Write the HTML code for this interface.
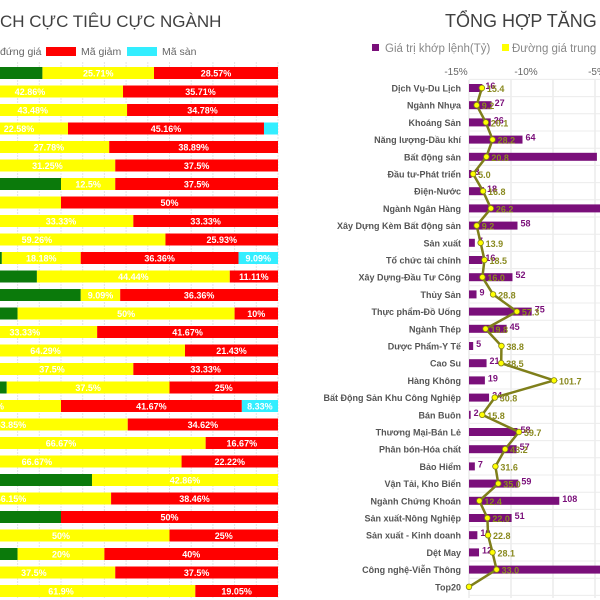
<!DOCTYPE html>
<html><head><meta charset="utf-8">
<style>
html,body{margin:0;padding:0;background:#fff;width:600px;height:600px;overflow:hidden}
svg{display:block;font-family:"Liberation Sans","DejaVu Sans",sans-serif}
</style></head>
<body>
<svg id="chart" width="600" height="600" viewBox="0 0 600 600">
  <text x="0" y="27" font-size="17" fill="#404040">CH CỰC TIÊU CỰC NGÀNH</text>
  <g font-size="10.5" fill="#666">
    <text x="0" y="55">đứng giá</text>
    <rect x="46" y="47" width="30" height="9" fill="#ff0000"/>
    <text x="81" y="55">Mã giảm</text>
    <rect x="127" y="47" width="30" height="9" fill="#33eeff"/>
    <text x="162" y="55">Mã sàn</text>
  </g>
  <text x="445" y="27" font-size="18" fill="#404040">TỔNG HỢP TĂNG GIẢM</text>
  <g font-size="11.5" fill="#888">
    <rect x="372" y="44" width="7" height="7" fill="#7a0f7a"/>
    <text x="385" y="52">Giá trị khớp lệnh(Tỷ)</text>
    <rect x="502" y="44" width="7" height="7" fill="#ffff00"/>
    <text x="512" y="52">Đường giá trung bình</text>
  </g>
  <g id="left"></g>
  <g id="right"></g>
</svg>
<script>
const leftGreen  = [45.72,21.43,21.74,29.03,33.33,31.25,50,0,33.34,14.81,36.37,44.45,54.55,40,25,14.28,29.17,37.5,16.67,11.53,16.66,11.11,57.14,15.39,50,25,40,25,19.05];
const leftYellow = [25.71,42.86,43.48,22.58,27.78,31.25,12.5,50,33.33,59.26,18.18,44.44,9.09,50,33.33,64.29,37.5,37.5,33.33,53.85,66.67,66.67,42.86,46.15,0,50,20,37.5,61.9];
const leftRed    = [28.57,35.71,34.78,45.16,38.89,37.5,37.5,50,33.33,25.93,36.36,11.11,36.36,10,41.67,21.43,33.33,25,41.67,34.62,16.67,22.22,0,38.46,50,25,40,37.5,19.05];
const leftCyan   = [0,0,0,3.23,0,0,0,0,0,0,9.09,0,0,0,0,0,0,0,8.33,0,0,0,0,0,0,0,0,0,0];

const categories = ["Dịch Vụ-Du Lịch","Ngành Nhựa","Khoáng Sản","Năng lượng-Dầu khí","Bất động sản","Đầu tư-Phát triển","Điện-Nước","Ngành Ngân Hàng","Xây Dựng Kèm Bất động sản","Sản xuất","Tổ chức tài chính","Xây Dựng-Đầu Tư Công","Thủy Sản","Thực phẩm-Đồ Uống","Ngành Thép","Dược Phẩm-Y Tế","Cao Su","Hàng Không","Bất Động Sản Khu Công Nghiệp","Bán Buôn","Thương Mại-Bán Lẻ","Phân bón-Hóa chất","Bảo Hiểm","Vận Tải, Kho Biển","Ngành Chứng Khoán","Sản xuất-Nông Nghiệp","Sản xuất - Kinh doanh","Dệt May","Công nghệ-Viễn Thông","Top20"];
const barValues  = [16,27,26,64,153,3,18,250,58,7,16,52,9,75,45,5,21,19,24,2,58,57,7,59,108,51,10,12,200,0];
const lineValues = [15.4,9.2,20.1,28.2,20.8,5.0,16.8,26.2,9.2,13.9,18.5,16.0,28.8,57.3,19.8,38.8,38.5,101.7,30.8,15.8,59.7,43.2,31.6,35.0,12.4,22.0,22.8,28.1,33.0,0];
const topTicks = ["-15%","-10%","-5%"];

const NS="http://www.w3.org/2000/svg";
function mk(parent,tag,attrs,text){const e=document.createElementNS(NS,tag);for(const k in attrs)e.setAttribute(k,attrs[k]);if(text!==undefined)e.textContent=text;parent.appendChild(e);return e;}

const L=document.getElementById('left');
const lx0=-156, lx1=278, lRow0=73, lStep=18.5, lH=12;
const lx=v=>lx0+(lx1-lx0)*v/100;
const ly=i=>lRow0+i*lStep;
for(let g=0;g<=100;g+=5){
  const gl=mk(L,'line',{x1:lx(g),x2:lx(g),y1:62,y2:598,stroke:'#e4e4e4','stroke-width':1,'stroke-dasharray':'2,1'});
  
  
}
const segs=[[leftGreen,'#0b7a0b','green'],[leftYellow,'#ffff00','yellow'],[leftRed,'#ff0000','red'],[leftCyan,'#33eeff','cyan']];
for(let i=0;i<leftRed.length;i++){
  let acc=0;
  for(const [arr,col,nm] of segs){
    const v=arr[i]; if(v<=0){continue;}
    const x=lx(acc), w=lx(acc+v)-lx(acc);
    const r=mk(L,'rect',{x:x,y:ly(i)-lH/2,width:w,height:lH,fill:col});
    
    
    if(nm!=='green' && w>20){
      const t=mk(L,'text',{x:x+w/2,y:ly(i)+3.5,'font-size':9,'font-weight':'bold',fill:'#fff','text-anchor':'middle'},(Math.round(v*100)/100)+'%');
      
      
    }
    acc+=v;
  }
}

const R=document.getElementById('right');
const rx0=469, rScale=0.836, rRow0=88, rStep=17.2;
const rx=v=>rx0+v*rScale;
const ry=i=>rRow0+i*rStep;
const tickX=[456,526,597];
topTicks.forEach((t,k)=>{
  const e=mk(R,'text',{x:tickX[k],y:75,'font-size':10,fill:'#666','text-anchor':'middle'},t);
  
  
});
[469,511,553,595].forEach(x=>{
  const e=mk(R,'line',{x1:x,x2:x,y1:80,y2:598,stroke:'#e2e2e2','stroke-width':1});
  
  
});
for(let i=0;i<=categories.length;i++){
  const y=rRow0-rStep/2+i*rStep;
  const e=mk(R,'line',{x1:469,x2:600,y1:y,y2:y,stroke:'#ececec','stroke-width':1});
  
  
}
categories.forEach((c,i)=>{
  const t=mk(R,'text',{x:461,y:ry(i)+3.5,'font-size':9,'font-weight':'bold',fill:'#555','text-anchor':'end'},c);
  
  
  if(barValues[i]>0){
    const b=mk(R,'rect',{x:rx0,y:ry(i)-4,width:rx(barValues[i])-rx0,height:8,fill:'#7a0f7a'});
    
    
    const bx=rx(barValues[i]);
    if(bx<590){
      const bt=mk(R,'text',{x:bx+3,y:ry(i)+1,'font-size':9,'font-weight':'bold',fill:'#7a0f7a'},barValues[i]);
      
      
    }
  }
});
let d='';
lineValues.forEach((v,i)=>{d+=(i?'L':'M')+rx(v)+','+ry(i);});
const path=mk(R,'path',{d:d,fill:'none',stroke:'#7f7f1a','stroke-width':2.5});


lineValues.forEach((v,i)=>{
  const c=mk(R,'circle',{cx:rx(v),cy:ry(i),r:2.8,fill:'#ffff00',stroke:'#7f7f1a','stroke-width':0.8});
  
  
  if(i<lineValues.length-1){
    const t=mk(R,'text',{x:rx(v)+5,y:ry(i)+4,'font-size':9,'font-weight':'bold',fill:'#8a8a20'},v.toFixed(1));
    
    
  }
});
</script>
</body></html>
